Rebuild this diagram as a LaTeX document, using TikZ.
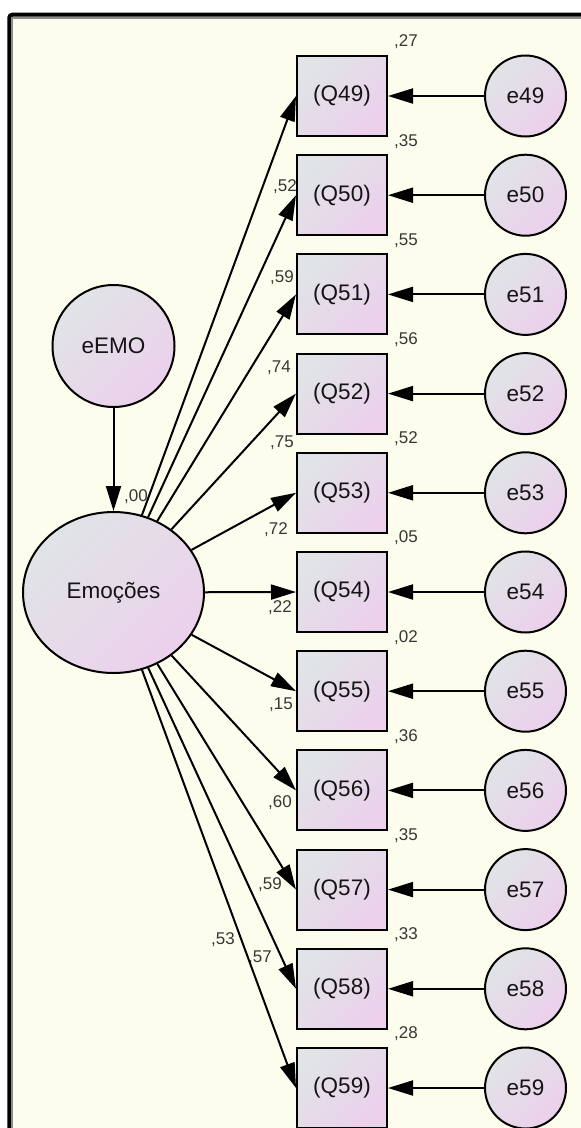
\documentclass[tikz,border=0pt]{standalone}
\usepackage{fontspec}
\setmainfont{Liberation Sans}
\usetikzlibrary{shapes.geometric,arrows.meta}
\definecolor{paper}{RGB}{253,253,238}
\definecolor{shadeA}{RGB}{224,228,230}
\definecolor{shadeB}{RGB}{236,208,236}
\definecolor{coef}{RGB}{55,55,55}
\definecolor{ink}{RGB}{20,20,20}
\begin{document}
\begin{tikzpicture}[x=1pt,y=-1pt,
  every node/.style={font=\fontsize{22.5}{26}\selectfont, text=ink},
  filled/.style={draw=black, line width=2pt, top color=shadeA, bottom color=shadeB, shading angle=45},
  obs/.style={filled, rectangle, minimum width=90pt, minimum height=80pt, inner sep=0pt},
  err/.style={filled, circle, minimum size=81pt, inner sep=0pt},
  latent/.style={filled, ellipse, minimum width=181pt, minimum height=161pt, inner sep=0pt},
  link/.style={draw=black, line width=2pt, -{Triangle[length=25pt,width=15pt]}},
  coefl/.style={font=\fontsize{17}{19}\selectfont, text=coef, inner sep=0pt},
]
\useasboundingbox (0,0) rectangle (581,1128);
\clip (0,0) rectangle (581,1128);
\fill[white] (0,0) rectangle (581,1128);

% panel with dark rim and soft inner shadow
\draw[line width=4pt, fill=paper, rounded corners=3pt] (9.3,14.7) rectangle (620,1200);
\draw[line width=2pt, draw=black!45] (12.3,1200) -- (12.3,17.7) -- (620,17.7);

% latent factor and its disturbance
\node[filled, circle, minimum size=122pt, inner sep=0pt] (eemo) at (113.5,346) {eEMO};
\node[latent] (emo) at (113.5,592.5) {Emoções};
\node[coefl] (r0) at (136,497) {,00};

% indicators, their errors and squared multiple correlations
\foreach \q/\r [count=\k from 0] in {49/{,27},50/{,35},51/{,55},52/{,56},53/{,52},54/{,05},55/{,02},56/{,36},57/{,35},58/{,33},59/{,28}} {
  \node[obs] (q\q) at (342,{96+99.2*\k}) {(Q\q)};
  \node[err] (e\q) at (525.5,{96+99.2*\k}) {e\q};
  \node[coefl] (r\q) at (406,{42+99.2*\k}) {\r};
}

% standardized loadings
\node[coefl] (l49) at (285,187) {,52};
\node[coefl] (l50) at (282,278) {,59};
\node[coefl] (l51) at (279,368) {,74};
\node[coefl] (l52) at (282,443) {,75};
\node[coefl] (l53) at (276,530) {,72};
\node[coefl] (l54) at (280,608) {,22};
\node[coefl] (l55) at (281,705) {,15};
\node[coefl] (l56) at (280,803) {,60};
\node[coefl] (l57) at (270,885) {,59};
\node[coefl] (l58) at (260,958) {,57};
\node[coefl] (l59) at (223,940) {,53};

% paths
\draw[link] (eemo) -- (emo);
\foreach \q in {49,...,59} {
  \draw[link] (emo) -- (q\q.west);
  \draw[link] (e\q) -- (q\q);
}
\end{tikzpicture}
\end{document}
